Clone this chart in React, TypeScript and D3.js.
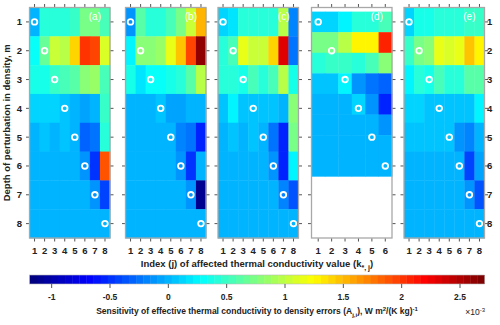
import React from "react";
import * as d3 from "d3";

// ---------- data (sensitivity ×1e-3, rows = depth 1..8, cols = index j) ----------
const depthTicks = [1, 2, 3, 4, 5, 6, 7, 8];
const indexTicks8 = [1, 2, 3, 4, 5, 6, 7, 8];
const indexTicks6 = [1, 2, 3, 4, 5, 6];
const panelLabels = ["(a)", "(b)", "(c)", "(d)", "(e)"];
const colorTicks = [-1, -0.5, 0, 0.5, 1, 1.5, 2, 2.5];
const colorDomain = [-1.19, 2.71];

const sensA = [
  [-0.03, 0.4, 0.4, 0.4, 0.5, 0.72, 0.75, 0.52],
  [0.3, 0.65, 1.05, 1.0, 1.4, 2.0, 1.95, 1.1],
  [0.35, 0.35, 0.5, 0.55, 0.6, 0.8, 0.85, 0.55],
  [0.1, 0.1, 0.1, 0.05, 0.0, -0.08, -0.03, 0.5],
  [0.0, 0.05, 0.0, 0.05, 0.0, -0.32, -0.22, 0.45],
  [0.0, 0.0, 0.0, 0.0, 0.0, -0.13, -0.47, 1.87],
  [0.0, 0.0, 0.0, 0.0, 0.0, 0.0, -0.13, -0.43],
  [0.0, 0.0, 0.0, 0.0, 0.0, 0.0, 0.0, 0.0],
];
const sensB = [
  [-0.1, 0.6, 0.45, 0.45, 0.55, 0.7, 1.05, 1.53],
  [0.26, 0.8, 0.8, 0.85, 1.15, 1.48, 1.92, 2.6],
  [0.35, 0.2, 0.3, 0.3, 0.35, 0.45, 0.6, 0.95],
  [0.0, 0.0, -0.03, 0.05, -0.05, -0.05, 0.0, -0.03],
  [0.0, 0.0, 0.0, 0.0, 0.0, -0.18, -0.27, -0.52],
  [0.0, 0.0, 0.0, 0.0, 0.0, -0.13, -0.47, 0.0],
  [0.0, 0.0, 0.0, 0.0, 0.0, 0.0, -0.13, -1.1],
  [0.0, 0.0, 0.0, 0.0, 0.0, 0.0, 0.0, 0.0],
];
const sensC = [
  [0.1, 0.2, 0.45, 0.45, 0.4, 0.45, 1.0, -0.18],
  [0.4, 0.55, 1.15, 1.05, 1.05, 1.42, 2.33, -0.27],
  [0.4, 0.4, 0.35, 0.55, 0.45, 0.55, 1.0, 0.35],
  [0.05, 0.26, 0.05, 0.05, 0.05, 0.05, 0.0, 0.8],
  [0.0, 0.03, 0.0, 0.05, 0.0, -0.22, -0.57, 0.75],
  [0.0, 0.0, 0.0, 0.0, 0.0, -0.13, -0.57, 0.26],
  [0.0, 0.0, 0.0, 0.0, 0.0, 0.0, -0.18, -0.35],
  [0.0, 0.0, 0.0, 0.0, 0.0, 0.0, 0.0, 0.0],
];
const sensD = [
  [0.15, 0.15, 0.25, 0.4, 0.4, 0.55],
  [0.75, 0.75, 0.95, 1.25, 1.3, 2.1],
  [0.4, 0.5, 0.5, 0.45, 0.55, 0.8],
  [0.05, 0.05, 0.25, -0.13, -0.27, -0.32],
  [0.0, 0.0, 0.0, 0.1, -0.13, -0.57],
  [0.0, 0.0, 0.0, 0.0, 0.0, -0.13],
  [0.0, 0.0, 0.0, 0.0, 0.0, 0.0],
  [0.0, 0.0, 0.0, 0.0, 0.0, 0.0],
];
const sensE = [
  [0.15, 0.35, 0.35, 0.4, 0.4, 0.4, 0.5, 0.5],
  [0.5, 0.75, 0.8, 1.15, 1.1, 1.15, 1.48, 1.25],
  [0.26, 0.4, 0.35, 0.55, 0.45, 0.45, 0.6, 0.6],
  [0.1, 0.15, 0.05, 0.05, 0.05, 0.05, 0.05, 0.25],
  [0.05, 0.05, 0.05, 0.05, 0.05, -0.13, -0.18, -0.03],
  [0.0, 0.0, 0.0, 0.0, 0.0, 0.0, -0.43, -0.08],
  [0.0, 0.0, 0.0, 0.0, 0.0, 0.0, -0.13, -0.38],
  [0.0, 0.0, 0.0, 0.0, 0.0, 0.0, 0.0, 0.0],
];
const panelData = [sensA, sensB, sensC, sensD, sensE];

// ---------- layout ----------
const W = 500;
const H = 325;
const panelLefts = [29.5, 125.5, 218, 311.5, 404];
const panelW = 80.5;
const top = 7.5;
const bottom = 238;
const cbX0 = 29.5;
const cbX1 = 484.5;
const cbY0 = 275;
const cbY1 = 284;
const FONT = "'Liberation Sans', Arial, Helvetica, sans-serif";

function jet(t: number) {
  const c = (v: number) => Math.max(0, Math.min(1, v));
  const r = c(1.5 - Math.abs(4 * t - 3));
  const g = c(1.5 - Math.abs(4 * t - 2));
  const b = c(1.5 - Math.abs(4 * t - 1));
  return d3.rgb(r * 255, g * 255, b * 255).formatHex();
}
const tScale = d3.scaleLinear().domain(colorDomain).range([0, 1]).clamp(true);
function colorOf(v: number) {
  const idx = Math.min(63, Math.floor(tScale(v) * 64));
  return jet(idx / 63);
}

const yScale = d3.scaleLinear().domain([0.5, 8.5]).range([top, bottom]);

function Panel({ k }: { k: number }) {
  const data = panelData[k];
  const nCols = data[0].length;
  const ticksX = nCols === 8 ? indexTicks8 : indexTicks6;
  const x0 = panelLefts[k];
  const xScale = d3.scaleLinear().domain([0.5, nCols + 0.5]).range([x0, x0 + panelW]);
  const isD = nCols === 6;
  // panel (d): 8 rows spread between depth 1 and 6 (image extent)
  const nRows = data.length;
  const rowCenter = (i: number) => (isD ? 1 + (i * 5) / (nRows - 1) : i + 1);
  const rowH = isD ? 5 / (nRows - 1) : 1;
  const nCircles = isD ? 6 : 8;
  const circles = d3.range(1, nCircles + 1);
  return (
    <g>
      {data.map((row, i) =>
        row.map((v, j) => {
          const xa = xScale(j + 0.5);
          const xb = xScale(j + 1.5);
          const ya = yScale(rowCenter(i) - rowH / 2);
          const yb = yScale(rowCenter(i) + rowH / 2);
          return (
            <rect
              key={`${i}-${j}`}
              x={xa}
              y={ya}
              width={xb - xa + 0.4}
              height={yb - ya + 0.4}
              fill={colorOf(v)}
            />
          );
        })
      )}
      {circles.map((c) => (
        <circle key={c} cx={xScale(c)} cy={yScale(c)} r={2.8} fill="none" stroke="#fff" strokeWidth={1.8} />
      ))}
      <text x={x0 + panelW - 9} y={19.5} textAnchor="end" fill="#fff" fontSize={10} fontFamily={FONT}>
        {panelLabels[k]}
      </text>
      <rect x={x0} y={top} width={panelW} height={bottom - top} fill="none" stroke="#a8a8a8" strokeWidth={1.3} />
      {ticksX.map((t) => (
        <g key={t}>
          <line x1={xScale(t)} x2={xScale(t)} y1={top - 0.6} y2={top - 3.5} stroke="#555" strokeWidth={1} />
          <line x1={xScale(t)} x2={xScale(t)} y1={bottom + 0.6} y2={bottom + 3.5} stroke="#555" strokeWidth={1} />
          <text x={xScale(t)} y={253.5} textAnchor="middle" fontSize={9.5} fontWeight="bold" fontFamily={FONT} fill="#222">
            {t}
          </text>
        </g>
      ))}
      {depthTicks.map((t) => (
        <g key={t}>
          <line x1={x0 - 0.6} x2={x0 - 3.5} y1={yScale(t)} y2={yScale(t)} stroke="#555" strokeWidth={1} />
          <line x1={x0 + panelW + 0.6} x2={x0 + panelW + 3.5} y1={yScale(t)} y2={yScale(t)} stroke="#555" strokeWidth={1} />
        </g>
      ))}
    </g>
  );
}

export default function App() {
  const cbScale = d3.scaleLinear().domain(colorDomain).range([cbX0, cbX1]);
  const steps = d3.range(64);
  const stepW = (cbX1 - cbX0) / 64;
  return (
    <svg width={W} height={H} style={{ position: "absolute", left: 0, top: 0, background: "#fff" }}>
      {panelLefts.map((_, k) => (
        <Panel key={k} k={k} />
      ))}
      {/* left y tick labels */}
      {depthTicks.map((t) => (
        <text key={"l" + t} x={22} y={yScale(t) + 3.5} textAnchor="end" fontSize={9.5} fontWeight="bold" fontFamily={FONT} fill="#222">
          {t}
        </text>
      ))}
      {depthTicks.map((t) => (
        <text key={"r" + t} x={487} y={yScale(t) + 3.5} textAnchor="start" fontSize={9.5} fontWeight="bold" fontFamily={FONT} fill="#222">
          {t}
        </text>
      ))}
      <text
        transform={`translate(9.5, ${(top + bottom) / 2}) rotate(-90)`}
        textAnchor="middle"
        fontSize={9.5}
        fontWeight="bold"
        fontFamily={FONT}
        fill="#222"
      >
        Depth of perturbation in density, m
      </text>
      <text x={257} y={267} textAnchor="middle" fontSize={9.5} fontWeight="bold" fontFamily={FONT} fill="#222">
        Index (j) of affected thermal conductivity value (k
        <tspan fontSize={7} dy={2.5}>*, j</tspan>
        <tspan dy={-2.5}>)</tspan>
      </text>
      {/* colorbar */}
      {steps.map((i) => (
        <rect key={i} x={cbX0 + i * stepW} y={cbY0} width={stepW + 0.4} height={cbY1 - cbY0} fill={jet(i / 63)} />
      ))}
      <rect x={cbX0} y={cbY0} width={cbX1 - cbX0} height={cbY1 - cbY0} fill="none" stroke="#bbb" strokeWidth={0.6} />
      {colorTicks.map((t) => (
        <g key={t}>
          <line x1={cbScale(t)} x2={cbScale(t)} y1={cbY1} y2={cbY1 + 4} stroke="#555" strokeWidth={1} />
          <text x={cbScale(t)} y={300} textAnchor="middle" fontSize={8.5} fontWeight="bold" fontFamily={FONT} fill="#222">
            {t}
          </text>
        </g>
      ))}
      <text x={257} y={314} textAnchor="middle" fontSize={8.5} fontWeight="bold" fontFamily={FONT} fill="#222">
        Sensitivity of effective thermal conductivity to density errors (A
        <tspan fontSize={6} dy={2.5}>j,i</tspan>
        <tspan dy={-2.5}>), W m</tspan>
        <tspan fontSize={6} dy={-3}>2</tspan>
        <tspan dy={3}>/(K kg)</tspan>
        <tspan fontSize={6} dy={-3}>-1</tspan>
      </text>
      <text x={485} y={315} textAnchor="end" fontSize={8.5} fontFamily={FONT} fill="#222">
        ×10
        <tspan fontSize={6} dy={-3.5}>-3</tspan>
      </text>
    </svg>
  );
}
